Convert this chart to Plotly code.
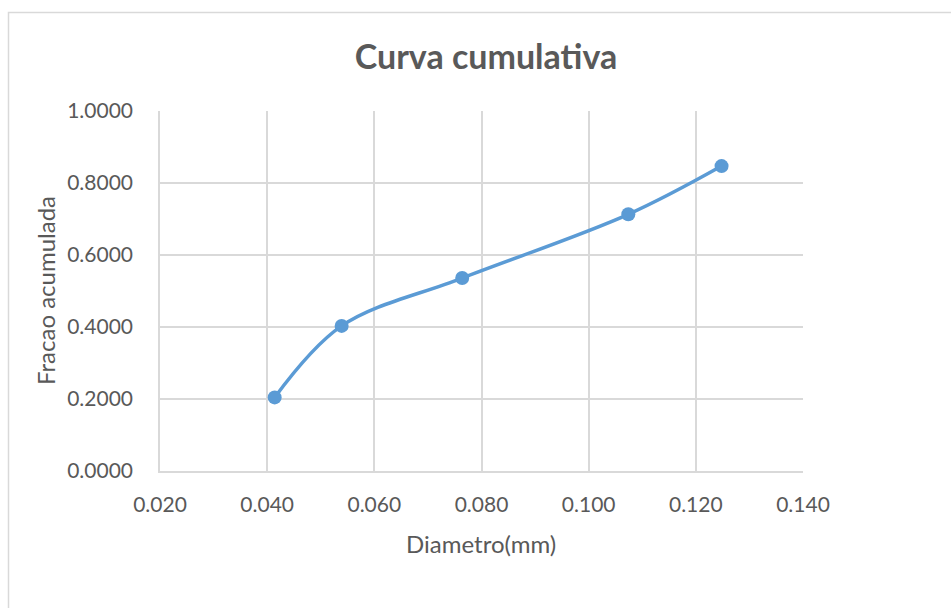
import plotly.graph_objects as go

# Cumulative fraction vs. particle diameter
diametro_mm = [0.0414, 0.0539, 0.0764, 0.1074, 0.1248]
fracao_acumulada = [0.2044, 0.4030, 0.5360, 0.7130, 0.8470]

x_ticks = [0.02, 0.04, 0.06, 0.08, 0.10, 0.12, 0.14]
y_ticks = [0.0, 0.2, 0.4, 0.6, 0.8, 1.0]

W, H = 951, 608
ML, MR, MT, MB = 160, 148, 111, 137
FONT = "Lato, Carlito, 'Open Sans', sans-serif"
GRAY = "#595959"
GRID = "#D9D9D9"
BLUE = "#5B9BD5"

fig = go.Figure()
fig.add_trace(go.Scatter(
    x=diametro_mm,
    y=fracao_acumulada,
    mode="lines+markers",
    line=dict(color=BLUE, width=3.5, shape="spline", smoothing=1.0),
    marker=dict(color=BLUE, size=14),
    showlegend=False,
    cliponaxis=False,
))

pw = W - ML - MR
ph = H - MT - MB


def px_x(p):
    return (p - ML) / pw


def px_y(p):
    return 1 - (p - MT) / ph


# outer chart frame
fig.add_shape(type="rect", xref="paper", yref="paper",
              x0=px_x(8.5), x1=px_x(1000), y0=px_y(12.5), y1=px_y(700),
              line=dict(color="#D9D9D9", width=1.5), layer="below")

# axis titles
fig.add_annotation(text="Diametro(mm)", xref="paper", yref="paper",
                   x=px_x(481), y=px_y(543), xanchor="center", yanchor="middle",
                   showarrow=False, font=dict(family=FONT, size=24, color=GRAY))
fig.add_annotation(text="Fracao acumulada", xref="paper", yref="paper",
                   x=px_x(45), y=px_y(291), xanchor="center", yanchor="middle",
                   textangle=-90, showarrow=False,
                   font=dict(family=FONT, size=24, color=GRAY))

fig.update_layout(
    width=W, height=H,
    margin=dict(l=ML, r=MR, t=MT, b=MB),
    paper_bgcolor="white",
    plot_bgcolor="white",
    font=dict(family=FONT, color=GRAY),
    title=dict(
        text="<b>Curva cumulativa</b>",
        font=dict(family=FONT, size=34, color=GRAY),
        x=486 / W, xanchor="center",
        y=1 - 57 / H, yanchor="middle",
        xref="container", yref="container",
    ),
    xaxis=dict(
        range=[0.02, 0.14],
        tickvals=x_ticks,
        ticktext=[f"{v:.3f}" for v in x_ticks],
        showgrid=True, gridcolor=GRID, gridwidth=1.5,
        showline=True, linecolor=GRID, linewidth=1.5,
        zeroline=False,
        ticks="", ticklabelstandoff=14,
        tickfont=dict(family=FONT, size=21, color=GRAY),
    ),
    yaxis=dict(
        range=[0.0, 1.0],
        tickvals=y_ticks,
        ticktext=[f"{v:.4f}" for v in y_ticks],
        showgrid=True, gridcolor=GRID, gridwidth=1.5,
        showline=True, linecolor=GRID, linewidth=1.5,
        zeroline=False,
        ticks="", ticklabelstandoff=21,
        tickfont=dict(family=FONT, size=21, color=GRAY),
    ),
)

fig.write_html("out.html")
